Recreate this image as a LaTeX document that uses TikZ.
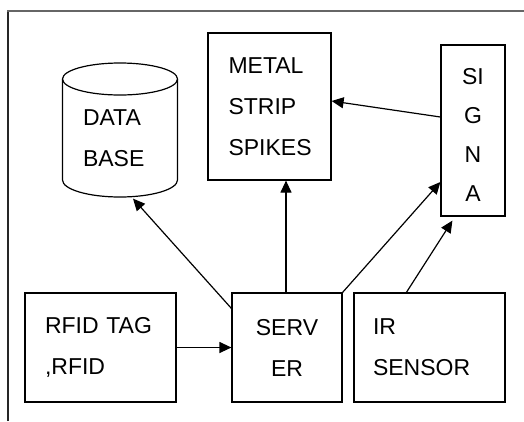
\documentclass[tikz,border=0pt]{standalone}
\usepackage{fontspec}
\setmainfont{Liberation Sans}
\usetikzlibrary{arrows.meta,calc}
\begin{document}
\begin{tikzpicture}[x=1pt,y=-1pt,
  line width=1.2pt,
  every node/.style={font=\fontsize{23}{41}\selectfont},
  box/.style={draw, rectangle, inner sep=0pt},
  lbl/.style={inner sep=0pt, align=left},
  arr/.style={-{Triangle[length=12pt,width=11pt]}, line width=1.2pt}]
\useasboundingbox (0,0) rectangle (524,421);
\fill[white] (0,0) rectangle (524,421);
% outer frame (left and top edges only)
\draw[line width=2pt, black!85] (8,421) -- (8,11);
\draw[line width=2pt, black!60] (7,11) -- (524,11);

% database cylinder
\node[inner sep=0pt, minimum width=115pt, minimum height=134pt] (db) at (120,130) {};
\draw (62.5,79) -- (62.5,180) arc[start angle=180, end angle=0, x radius=57.5, y radius=17]
      -- (177.5,79);
\draw (120,79) ellipse[x radius=57.5, y radius=16];
\node[lbl, text width=74pt] (dbtxt) at (120,138) {DATA\\BASE};

% boxes
\node[box, minimum width=123pt, minimum height=147pt, text width=82pt, align=left]
  (metal) at (269.5,106.5) {METAL\\STRIP\\SPIKES};
\node[box, minimum width=64pt, minimum height=171pt] (signa) at (473,130.5) {};
\node[lbl, align=center, font=\fontsize{23}{39}\selectfont]
  (signatxt) at (473,135) {SI\\G\\N\\A};
\node[box, minimum width=151pt, minimum height=109pt, text width=111pt, align=left]
  (rfid) at (100.5,347.5) {RFID TAG\\,RFID};
\node[box, minimum width=110pt, minimum height=109pt, align=center]
  (server) at (287,347.5) {SERV\\ER};
\node[box, minimum width=151pt, minimum height=109pt, text width=113pt, align=left]
  (ir) at (429.5,347.5) {IR\\SENSOR};

% connectors
\draw[arr] (rfid) -- (server);
\draw[arr] ($(server.north west)+(0,16)$) -- ($(db.south)+(13,1)$);
\draw[arr] ($(server.north)+(-1,0)$) -- ($(server.north |- metal.south)+(-1,0)$);
\draw[arr] (server.north east) -- ($(signa.west)+(0,51.5)$);
\draw[arr] ($(ir.north west)+(53,0)$) -- ($(signa.south west)+(12,4)$);
\draw[arr] ($(signa.west)+(0,-13.5)$) -- ($(metal.east)+(0,-5.5)$);
\end{tikzpicture}
\end{document}
